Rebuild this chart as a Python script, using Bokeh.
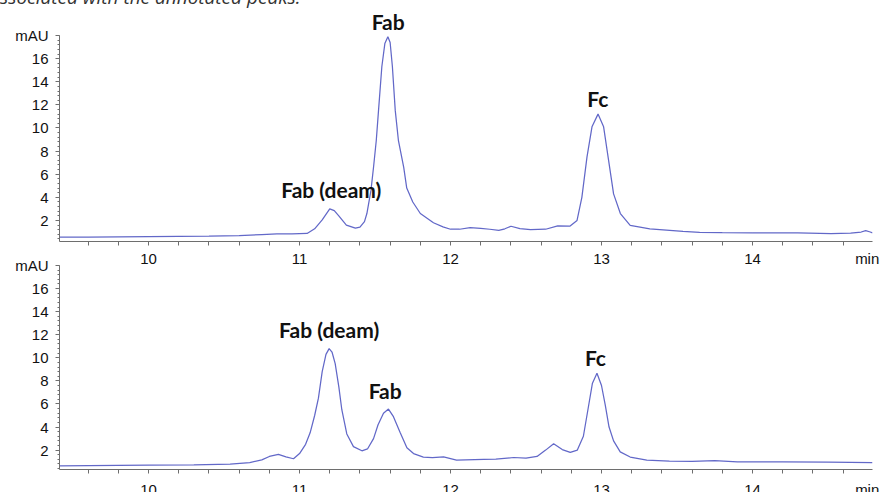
from bokeh.plotting import figure
from bokeh.models import Range1d, FixedTicker, Label, Div
from bokeh.layouts import column
from bokeh.embed import file_html
from bokeh.resources import INLINE

# ---------------- data ----------------
top_time = [9.41, 9.6, 9.8, 10.0, 10.2, 10.4, 10.6, 10.75, 10.85, 10.95, 11.05, 11.10,
            11.15, 11.20, 11.23, 11.26, 11.31, 11.37, 11.40, 11.43, 11.446, 11.473,
            11.49, 11.508, 11.523, 11.545, 11.565, 11.585, 11.60, 11.615, 11.634,
            11.655, 11.69, 11.71, 11.75, 11.80, 11.887, 11.95, 12.0, 12.06, 12.13,
            12.2, 12.26, 12.32, 12.36, 12.4, 12.46, 12.53, 12.63, 12.71, 12.79, 12.838,
            12.87, 12.904, 12.937, 12.977, 13.014, 13.047, 13.08, 13.125, 13.19, 13.32,
            13.54, 13.65, 13.8, 14.0, 14.3, 14.52, 14.65, 14.72, 14.75, 14.78, 14.795]
top_mau = [0.55, 0.56, 0.58, 0.60, 0.62, 0.64, 0.68, 0.78, 0.84, 0.85, 0.88, 1.28,
           2.05, 3.0, 2.85, 2.4, 1.6, 1.33, 1.42, 1.9, 2.6, 4.6,
           6.6, 8.9, 11.5, 15.3, 17.3, 17.9, 17.4, 15.3, 11.5,
           8.9, 6.6, 4.8, 3.6, 2.6, 1.8, 1.45, 1.24, 1.24, 1.38,
           1.32, 1.24, 1.15, 1.28, 1.5, 1.3, 1.2, 1.24, 1.53, 1.5, 2.0,
           4.0, 7.5, 10.1, 11.2, 10.1, 7.2, 4.3, 2.6, 1.57, 1.28,
           1.05, 0.98, 0.94, 0.92, 0.92, 0.86, 0.9, 1.0, 1.12, 1.0, 0.92]

bottom_time = [9.41, 9.8, 10.0, 10.3, 10.54, 10.67, 10.75, 10.80, 10.86, 10.91, 10.96,
               11.0, 11.04, 11.07, 11.10, 11.125, 11.15, 11.175, 11.196, 11.215, 11.236,
               11.26, 11.28, 11.313, 11.357, 11.413, 11.45, 11.49, 11.52, 11.556, 11.589,
               11.622, 11.667, 11.711, 11.755, 11.82, 11.88, 11.954, 12.04, 12.22, 12.3,
               12.418, 12.5, 12.573, 12.63, 12.683, 12.74, 12.793, 12.84, 12.88, 12.91,
               12.94, 12.97, 13.0, 13.025, 13.05, 13.08, 13.124, 13.19, 13.3, 13.45,
               13.6, 13.75, 13.9, 14.2, 14.5, 14.795]
bottom_mau = [0.63, 0.68, 0.70, 0.72, 0.78, 0.92, 1.15, 1.45, 1.63, 1.42, 1.25,
              1.7, 2.5, 3.5, 5.0, 6.5, 8.8, 10.3, 10.8, 10.5, 9.5,
              7.5, 5.5, 3.4, 2.3, 1.94, 2.1, 3.0, 4.2, 5.2, 5.56,
              4.9, 3.5, 2.2, 1.7, 1.4, 1.35, 1.42, 1.13, 1.2, 1.22,
              1.36, 1.3, 1.45, 2.0, 2.55, 2.05, 1.8, 2.0, 3.2, 5.5,
              7.8, 8.66, 7.6, 5.9, 4.0, 2.8, 1.85, 1.4, 1.13, 1.05,
              1.02, 1.08, 0.98, 0.98, 0.95, 0.92]

x_ticks = [10, 11, 12, 13, 14]
x_tick_labels = ["10", "11", "12", "13", "14"]
x_unit = "min"
x_unit_pos = 14.76
y_ticks = [2, 4, 6, 8, 10, 12, 14, 16, 18]
y_unit = "mAU"

top_peak_names = ["Fab (deam)", "Fab", "Fc"]
bottom_peak_names = ["Fab (deam)", "Fab", "Fc"]
caption = "ssociated with the annotated peaks."

# ---------------- styling ----------------
LINE = "#6268c8"
AXIS = "#6e6e6e"
TICK_FONT = "Liberation Sans"
PEAK_FONT = "Lato"
W = 880

x_minor = [round(9.4 + 0.2 * i, 1) for i in range(1, 28)]
y_minor = [round(0.4 * i, 1) for i in range(1, 46)]


def make_panel(time, mau, y_range, height, border_top, border_bottom, standoff, y_bounds):
    p = figure(width=W, height=height, output_backend="svg", toolbar_location=None,
               x_range=Range1d(9.41, 14.795), y_range=Range1d(*y_range),
               min_border_left=59, min_border_right=W - 872,
               min_border_top=border_top, min_border_bottom=border_bottom)
    p.outline_line_color = None
    p.grid.visible = False
    p.border_fill_alpha = 0
    p.background_fill_alpha = 0
    p.line(time, mau, line_color=LINE, line_width=1.25)

    xa = p.xaxis[0]
    labels = dict(zip(x_ticks, x_tick_labels))
    labels[x_unit_pos] = x_unit
    xa.ticker = FixedTicker(ticks=x_ticks + [x_unit_pos], minor_ticks=x_minor)
    xa.major_label_overrides = labels
    xa.axis_line_color = AXIS
    xa.major_tick_line_color = AXIS
    xa.minor_tick_line_color = AXIS
    xa.major_tick_in = 0
    xa.major_tick_out = 0
    xa.minor_tick_in = 0
    xa.minor_tick_out = 4
    xa.major_label_text_font = TICK_FONT
    xa.major_label_text_font_size = "15px"
    xa.major_label_text_color = "#111111"
    xa.major_label_standoff = standoff

    ya = p.yaxis[0]
    ya.ticker = FixedTicker(ticks=y_ticks, minor_ticks=y_minor)
    ya.major_label_overrides = {18: y_unit}
    ya.bounds = y_bounds
    ya.axis_line_color = AXIS
    ya.major_tick_line_color = AXIS
    ya.minor_tick_line_color = AXIS
    ya.major_tick_in = 0
    ya.major_tick_out = 4
    ya.minor_tick_in = 0
    ya.minor_tick_out = 2
    ya.major_label_standoff = 7
    ya.major_label_text_font = TICK_FONT
    ya.major_label_text_font_size = "15px"
    ya.major_label_text_color = "#111111"
    return p


def peak_label(p, name, x, y):
    p.add_layout(Label(x=x, y=y, text=name, text_align="center",
                       text_baseline="middle", text_font=PEAK_FONT,
                       text_font_style="bold", text_font_size="21px",
                       text_color="#111111"))


# ---------------- caption fragment (cut off at the top edge) ----------------
cap = Div(text=caption, width=440, height=19, margin=(-12, 0, -7, 0),
          styles={"font-family": "Open Sans", "font-style": "italic",
                  "font-size": "19px", "line-height": "19px", "color": "#333333",
                  "white-space": "nowrap"})

# ---------------- top panel ----------------
top = make_panel(top_time, top_mau, (0.18, 21.03), 270, 0, 29, 4, (0.18, 18.0))
for name, x, y in zip(top_peak_names, [11.21, 11.587, 12.975], [4.68, 19.17, 12.51]):
    peak_label(top, name, x, y)

# ---------------- bottom panel ----------------
bottom = make_panel(bottom_time, bottom_mau, (0.32, 18.0), 247, 10, 33, 7, (0.32, 18.0))
bottom.margin = (-15, 0, -10, 0)
for name, x, y in zip(bottom_peak_names, [11.196, 11.567, 12.96], [12.45, 7.21, 10.07]):
    peak_label(bottom, name, x, y)

layout = column(cap, top, bottom, spacing=0, styles={"overflow": "hidden"})
open("out.html", "w").write(file_html(layout, INLINE))
